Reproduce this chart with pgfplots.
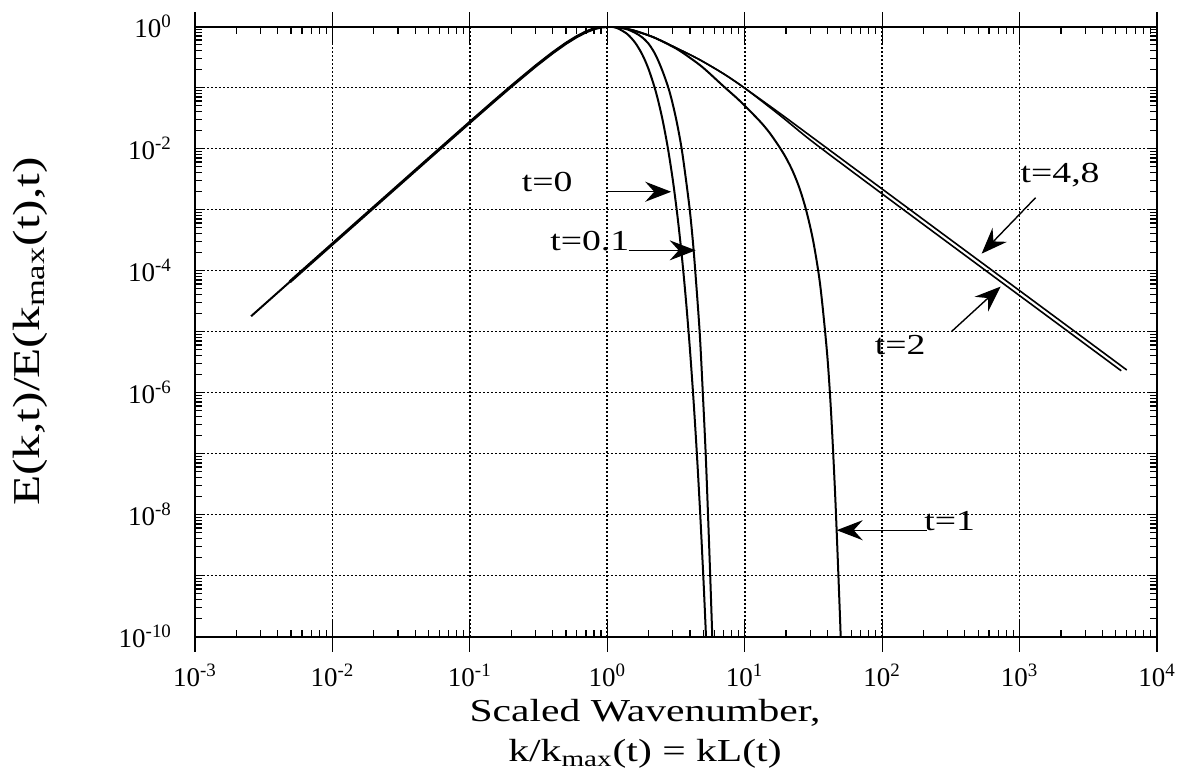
\documentclass[border=0pt]{standalone}
\usepackage{fontspec}
\setmainfont{Liberation Serif}[FakeStretch=1.3]
\newfontfamily\tickfont{Liberation Serif}
\usepackage{pgfplots}
\pgfplotsset{compat=1.18}
\usetikzlibrary{arrows.meta}

\begin{document}
\begin{tikzpicture}
\begin{axis}[
    xmode=log, ymode=log,
    scale only axis,
    width=481pt, height=305pt,
    xmin=1e-3, xmax=1e4,
    ymin=1e-10, ymax=1,
    clip mode=individual,
    xtick={1e-3,1e-2,1e-1,1,1e1,1e2,1e3,1e4},
    xticklabels={10\textsuperscript{-3},10\textsuperscript{-2},10\textsuperscript{-1},10\textsuperscript{0},10\textsuperscript{1},10\textsuperscript{2},10\textsuperscript{3},10\textsuperscript{4}},
    ytick={1e-10,1e-9,1e-8,1e-7,1e-6,1e-5,1e-4,1e-3,1e-2,1e-1,1},
    yticklabels={10\textsuperscript{-10},,10\textsuperscript{-8},,10\textsuperscript{-6},,10\textsuperscript{-4},,10\textsuperscript{-2},,10\textsuperscript{0}},
    grid=major,
    major grid style={black, line width=0.8pt, dash pattern=on 1pt off 1pt},
    tick align=inside,
    major tick length=5pt, minor tick length=3.5pt,
    tick style={black, line width=0.6pt},
    axis line style={line width=1pt},
    tick label style={font=\tickfont\fontsize{13.5}{16}\selectfont},
    xticklabel style={yshift=-10pt},
    yticklabel style={xshift=-8pt},
    xlabel={Scaled Wavenumber,\\k/k\textsubscript{max}(t) = kL(t)},
    every axis x label/.style={at={([xshift=-15.5pt,yshift=-31pt]rel axis cs:0.5,0)}, anchor=north, align=center, inner sep=0pt, font=\fontsize{16}{20}\selectfont},
    ylabel={E(k,t)/E(k\textsubscript{max}(t),t)},
    every axis y label/.style={at={([xshift=-82.5pt]rel axis cs:0,0.5)}, rotate=90, anchor=center, inner sep=0pt, font=\fontsize{19}{21}\selectfont},
    every axis plot/.append style={black, no markers},
]
% common rising part (all times)
\addplot[line width=1.5pt] coordinates {
    (0.0049,6.53e-5) (0.01,2.72e-4) (0.02,1.087e-3) (0.05,6.78e-3)
    (0.1,0.0269) (0.15,0.0598) (0.2,0.1045) (0.3,0.2236) (0.4,0.3706)
    (0.5,0.5293) (0.6,0.6827) (0.7,0.816) (0.8,0.9173) (0.9,0.9795) (1,1)
};
% t=0
\addplot[line width=1pt, smooth] coordinates {
    (0.00256,1.78e-5) (0.005,6.8e-5) (0.01,2.72e-4) (0.02,1.087e-3)
    (0.05,6.78e-3) (0.1,0.0269) (0.2,0.1045) (0.3,0.2236) (0.4,0.3706)
    (0.5,0.5293) (0.6,0.6827) (0.7,0.816) (0.8,0.9173) (0.9,0.9795) (1,1)
    (1.1,0.981) (1.2,0.927) (1.4,0.7505) (1.6,0.538) (1.8,0.345) (2.0,0.199)
    (2.25,0.0871) (2.5,0.0328) (2.75,0.01068) (3.0,3.02e-3) (3.25,7.43e-4)
    (3.5,1.594e-4) (3.75,2.99e-5) (4.0,4.89e-6) (4.25,7.03e-7) (4.5,8.85e-8)
    (4.75,9.76e-9) (5.0,9.44e-10) (5.1,3.58e-10) (5.2,1.327e-10) (5.3,4.83e-11)
};
% t=0.1
\addplot[line width=1pt, smooth] coordinates {
    (1,1) (1.122,0.989) (1.259,0.955) (1.413,0.891) (1.585,0.794) (1.778,0.676)
    (1.995,0.525) (2.239,0.347) (2.512,0.191) (2.831,0.0871) (3.148,0.0328)
    (3.459,0.0107) (3.733,3.16e-3) (3.981,1e-3) (4.188,3.16e-4) (4.365,1e-4)
    (4.699,1e-5) (4.955,1e-6) (5.2,1e-7) (5.408,1e-8) (5.61,1e-9) (5.808,1e-10)
};
% t=1
\addplot[line width=1pt, smooth] coordinates {
    (1,1) (1.259,0.955) (1.585,0.851) (2.188,0.661) (3.162,0.4365) (3.981,0.309)
    (5.012,0.209) (7.096,0.1023) (9.12,0.0617) (12.74,0.02884) (15.14,0.0182)
    (17.82,0.01072) (19.95,7.08e-3) (22.39,4.22e-3) (25.12,2.19e-3)
    (28.18,9.23e-4) (31.62,2.92e-4) (35.48,5.62e-5) (39.81,4.27e-6)
    (42.66,4.07e-7) (45.71,1.70e-8) (48.98,3.31e-10) (50.12,7.94e-11)
};
% t=2
\addplot[line width=0.8pt, smooth] coordinates {
    (1,1) (1.259,0.955) (1.585,0.851) (2.188,0.661) (3.162,0.447) (4.667,0.288)
    (7.079,0.166) (10,0.0977) (17.78,0.0360) (31.62,0.0126) (100,1.807e-3)
    (316.2,2.64e-4) (1000,3.88e-5) (3162,5.70e-6) (5495,2.27e-6)
};
% t=4,8
\addplot[line width=0.8pt, smooth] coordinates {
    (1,1) (1.259,0.955) (1.585,0.851) (2.188,0.661) (3.162,0.447) (4.667,0.288)
    (7.079,0.166) (10,0.0977) (17.78,0.0386) (31.62,0.0148) (100,2.17e-3)
    (316.2,3.18e-4) (1000,4.68e-5) (3162,6.87e-6) (6026,2.34e-6)
};

% long decade ticks across the bottom and top edges
\pgfplotsinvokeforeach{-3,-2,-1,0,1,2,3,4}{
    \draw[line width=0.6pt] ([yshift=-7.5pt]axis cs:1e#1,1e-10) -- ([yshift=8.5pt]axis cs:1e#1,1e-10);
    \draw[line width=0.6pt] ([yshift=-8.5pt]axis cs:1e#1,1) -- ([yshift=7.5pt]axis cs:1e#1,1);
}

\begin{scope}[font=\fontsize{14.5}{16}\selectfont]
\node at (axis cs:0.366,2.80e-3) {t=0};
\node at (axis cs:0.746,3.03e-4) {t=0.1};
\node at (axis cs:309.7,7.76e-9) {t=1};
\node at (axis cs:135.2,5.9e-6) {t=2};
\node at (axis cs:1972,3.64e-3) {t=4,8};
\end{scope}
\begin{scope}[line width=0.7pt, -{Stealth[length=13pt,width=10pt,inset=4.5pt]}]
\draw (axis cs:1.0,1.955e-3) -- (axis cs:2.92,1.955e-3);
\draw (axis cs:1.43,2.14e-4) -- (axis cs:4.40,2.14e-4);
\draw (axis cs:211,5.53e-9) -- (axis cs:46.7,5.53e-9);
\draw (axis cs:320,1.0e-5) -- (axis cs:727.8,5.45e-5);
\draw (axis cs:1307,1.56e-3) -- (axis cs:529.7,1.89e-4);
\end{scope}

\coordinate (bbsw) at ([xshift=-97.5pt,yshift=-68.5pt]rel axis cs:0,0);
\coordinate (bbne) at ([xshift=11pt,yshift=13.25pt]rel axis cs:1,1);
\end{axis}
\pgfresetboundingbox
\path[use as bounding box] (bbsw) rectangle (bbne);
\end{tikzpicture}
\end{document}
